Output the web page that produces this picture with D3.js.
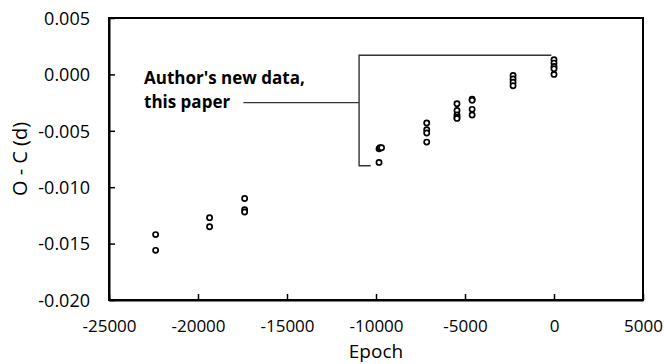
<!DOCTYPE html>
<html>
<head>
<meta charset="utf-8">
<script src="https://cdn.jsdelivr.net/npm/d3@7"></script>
<style>
  html, body { margin: 0; padding: 0; background: #fff; }
  svg { display: block; }
  text { font-family: "Open Sans", "Noto Sans", sans-serif; fill: #000; }
</style>
</head>
<body>
<svg id="chart" width="664" height="364"></svg>
<script>
// Timing residuals (O - C, days) against cycle number
const epochs = [
  -22380, -22380,
  -19350, -19350,
  -17380, -17380, -17380,
  -9830, -9780, -9690, -9830,
  -7150, -7150, -7150, -7150,
  -5450, -5450, -5450, -5450, -5450,
  -4600, -4600, -4600, -4600,
  -2300, -2300, -2300, -2300,
  0, 0, 0, 0, 0
];
const ocValues = [
  -0.0142, -0.0156,
  -0.0127, -0.0135,
  -0.0110, -0.0120, -0.0122,
  -0.0066, -0.0065, -0.0065, -0.0078,
  -0.0043, -0.0049, -0.0052, -0.0060,
  -0.0026, -0.0032, -0.0036, -0.0038, -0.0039,
  -0.0022, -0.0023, -0.0031, -0.0036,
  -0.0001, -0.0004, -0.0007, -0.0010,
  0.0013, 0.0010, 0.0007, 0.0005, 0.0000
];
const xTicks = [-25000, -20000, -15000, -10000, -5000, 0, 5000];
const yTicks = [0.005, 0.000, -0.005, -0.010, -0.015, -0.020];
const noteLines = ["Author's new data,", "this paper"];

const svg = d3.select("#chart");
const m = { left: 109, right: 643, top: 18, bottom: 300 };

const x = d3.scaleLinear().domain([-25000, 5000]).range([m.left, m.right]);
const y = d3.scaleLinear().domain([-0.020, 0.005]).range([m.bottom, m.top]);

// Frame
svg.append("rect")
  .attr("x", m.left).attr("y", m.top)
  .attr("width", m.right - m.left).attr("height", m.bottom - m.top)
  .attr("fill", "none").attr("stroke", "#000").attr("stroke-width", 2);

// Axes with inward ticks
const xAxis = svg.append("g")
  .attr("transform", `translate(0,${m.bottom})`)
  .call(d3.axisBottom(x).tickValues(xTicks).tickSizeInner(-6).tickSizeOuter(0)
        .tickFormat(d => d3.format("d")(d).replace("−", "-")));
xAxis.select(".domain").attr("stroke", "#000").attr("stroke-width", 2);
xAxis.selectAll(".tick line").attr("stroke", "#000").attr("stroke-width", 1.5);
xAxis.selectAll(".tick text").attr("dy", 0).attr("y", 32)
  .style("font-size", "17px").style("font-family", "'Open Sans', sans-serif");

const yAxis = svg.append("g")
  .attr("transform", `translate(${m.left},0)`)
  .call(d3.axisLeft(y).tickValues(yTicks).tickSizeInner(-6).tickSizeOuter(0)
        .tickFormat(d => d3.format(".3f")(d).replace("−", "-")));
yAxis.select(".domain").attr("stroke", "#000").attr("stroke-width", 2);
yAxis.selectAll(".tick line").attr("stroke", "#000").attr("stroke-width", 1.5);
yAxis.selectAll(".tick text").attr("x", -19).attr("dy", "0.35em")
  .style("font-size", "18px").style("font-family", "'Open Sans', sans-serif");

// Axis titles
svg.append("text")
  .attr("x", (m.left + m.right) / 2).attr("y", 358)
  .attr("text-anchor", "middle")
  .style("font-size", "19px")
  .text("Epoch");

svg.append("text")
  .attr("transform", `translate(27,${(m.top + m.bottom) / 2}) rotate(-90)`)
  .attr("text-anchor", "middle")
  .style("font-size", "20px")
  .text("O - C (d)");

// Bracket marking the new measurements
const bx = x(-10950);
const bracket = d3.path();
bracket.moveTo(x(-150), y(0.0017));
bracket.lineTo(bx, y(0.0017));
bracket.lineTo(bx, y(-0.0081));
bracket.lineTo(x(-10300), y(-0.0081));
bracket.moveTo(x(-17450), y(-0.0025));
bracket.lineTo(bx, y(-0.0025));
svg.append("path")
  .attr("d", bracket.toString())
  .attr("fill", "none").attr("stroke", "#333").attr("stroke-width", 1.4);

const note = svg.append("text")
  .attr("x", 144).attr("y", 84)
  .style("font-size", "17px").style("font-weight", "bold");
note.selectAll("tspan").data(noteLines).join("tspan")
  .attr("x", 144).attr("dy", (d, i) => i === 0 ? 0 : 24)
  .text(d => d);

// Observations
svg.append("g").selectAll("circle")
  .data(epochs.map((e, i) => [e, ocValues[i]]))
  .join("circle")
  .attr("cx", d => x(d[0])).attr("cy", d => y(d[1]))
  .attr("r", 2.6)
  .attr("fill", "#fff").attr("stroke", "#000").attr("stroke-width", 1.7);
</script>
</body>
</html>
